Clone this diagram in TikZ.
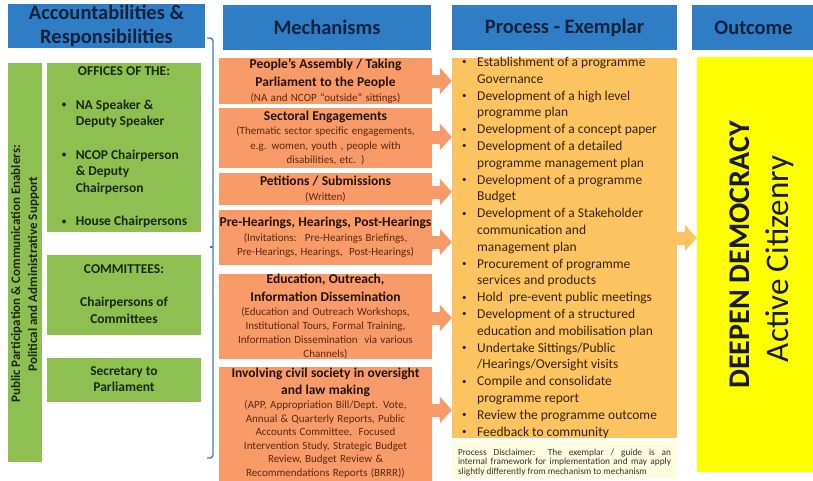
\documentclass[tikz,border=0pt]{standalone}
\usepackage{fontspec}
\setmainfont{Carlito}
\usetikzlibrary{arrows.meta}
\definecolor{hdrblue}{RGB}{47,125,196}
\definecolor{hdrtext}{RGB}{20,34,62}
\definecolor{grnfill}{RGB}{141,192,80}
\definecolor{grntext}{RGB}{28,40,14}
\definecolor{mechor}{RGB}{248,155,105}
\definecolor{mechtitle}{RGB}{36,18,8}
\definecolor{mechsub}{RGB}{90,40,15}
\definecolor{procor}{RGB}{252,196,96}
\definecolor{proctext}{RGB}{55,35,10}
\definecolor{disfill}{RGB}{255,252,224}
\definecolor{outyel}{RGB}{255,255,0}
\definecolor{brkblue}{RGB}{60,125,200}
\newcommand\fsz[2]{\fontsize{#1}{#2}\selectfont}
\newcommand\mtitle{\fsz{13.5}{18}\bfseries\color{mechtitle}}
\newcommand\msub{\fsz{11}{14.5}\mdseries\color{mechsub}}
\newcommand\mybul{\raisebox{1.6pt}{\fsz{9}{9}\textbullet}}
\begin{document}
\begin{tikzpicture}[x=1pt,y=-1pt,
  hdr/.style={fill=hdrblue,text=hdrtext,font=\fsz{20.5}{24}\bfseries,inner sep=0pt,align=center},
  grnbox/.style={fill=grnfill,text=grntext,inner sep=0pt,font=\fsz{13.5}{16.67}\bfseries},
  mech/.style={fill=mechor,inner sep=0pt,align=center,text width=213pt,minimum width=213pt},
  fat/.style={draw=mechor,line width=13pt,-{Triangle[length=12pt,width=26pt]}},
  brk/.style={draw=brkblue,line width=1.4pt,rounded corners=3pt},
]
\useasboundingbox[fill=white] (0,0) rectangle (813,480);

% headers
\node[hdr,minimum width=197pt,minimum height=44pt] (acch) at (106.5,26) {Accountabilities \&\\Responsibilities};
\node[hdr,minimum width=208pt,minimum height=45pt] (mechh) at (327,27.5) {Mechanisms};
\node[hdr,minimum width=225pt,minimum height=45pt] (proch) at (564.5,27.5) {Process - Exemplar};
\node[hdr,minimum width=123pt,minimum height=45pt] (outh) at (753.5,27.5) {Outcome};

% left column
\node[grnbox,minimum width=34pt,minimum height=399pt] (bar) at (25,262.5) {};
\node[text=grntext,font=\fsz{13}{17}\bfseries,rotate=90,align=center,inner sep=0pt] (bartext) at (25,274) {Public Participation \& Communication Enablers:\\Political and Administrative Support};

\node[grnbox,minimum width=154pt,minimum height=169pt] (offices) at (124,147.5) {%
\begin{tabular}{@{}l@{}l@{}}
\multicolumn{2}{c}{OFFICES OF THE:}\\
\\
\makebox[15pt][l]{\hspace{1pt}\mybul} & NA Speaker \&\\
 & Deputy Speaker\\
\\
\hspace{1pt}\mybul & NCOP Chairperson\\
 & \& Deputy\\
 & Chairperson\\
\\
\hspace{1pt}\mybul & House Chairpersons
\end{tabular}};
\node[grnbox,minimum width=154pt,minimum height=80pt] (committees) at (124,295) {%
\begin{tabular}{@{}c@{}}
COMMITTEES:\\
\\
Chairpersons of\\
Committees
\end{tabular}};
\node[grnbox,minimum width=154pt,minimum height=44pt] (secretary) at (124,380) {%
\begin{tabular}{@{}c@{}}
Secretary to\\
Parliament
\end{tabular}};

% bracket
\draw[brk] (207,38) -- (213,38) -- (213,458) -- (207,458);
\draw[draw=brkblue,line width=1.2pt] (213,247) -- (210,247);

% mechanisms
\node[mech,minimum height=46pt] (m1) at (325.5,81) {\mtitle People’s Assembly / Taking\\Parliament to the People\par\msub (NA and NCOP “outside” sittings)\par};
\node[mech,minimum height=60pt] (m2) at (325.5,138) {\mtitle Sectoral Engagements\par\msub (Thematic sector specific engagements,\\e.g. women, youth , people with\\disabilities, etc. )\par};
\node[mech,minimum height=32pt] (m3) at (325.5,189) {\mtitle Petitions / Submissions\par\msub (Written)\par};
\node[mech,minimum height=55pt] (m4) at (325.5,237.5) {\mtitle Pre-Hearings, Hearings, Post-Hearings\par\msub (Invitations:~ Pre-Hearings Briefings,\\Pre-Hearings, Hearings,~ Post-Hearings)\par};
\node[mech,minimum height=83pt] (m5) at (325.5,316.5) {\mtitle Education, Outreach,\\Information Dissemination\par\fsz{11}{13.8}\mdseries\color{mechsub}(Education and Outreach Workshops,\\Institutional Tours, Formal Training,\\Information Dissemination~ via various\\Channels)\par};
\node[mech,minimum height=118pt] (m6) at (325.5,426) {};
\node[align=center,text width=213pt,inner sep=0pt] (m6text) at (325.5,423) {\fsz{13.5}{17.5}\bfseries\color{mechtitle}Involving civil society in oversight\\and law making\par\fsz{11}{13.6}\mdseries\color{mechsub}(APP, Appropriation Bill/Dept. Vote,\\Annual \& Quarterly Reports, Public\\Accounts Committee,~ Focused\\Intervention Study, Strategic Budget\\Review, Budget Review \&\\Recommendations Reports (BRRR))\par};

% process
\node[fill=procor,minimum width=225pt,minimum height=380pt,inner sep=0pt] (proc) at (564.5,248) {};
\node[anchor=west,inner sep=0pt,text=proctext,font=\fsz{13.5}{16.8}] (proclist) at (462,248) {%
\begin{tabular}{@{}l@{}l@{}}
\makebox[15pt][l]{\mybul} & Establishment of a programme\\
 & Governance\\
\mybul & Development of a high level\\
 & programme plan\\
\mybul & Development of a concept paper\\
\mybul & Development of a detailed\\
 & programme management plan\\
\mybul & Development of a programme\\
 & Budget\\
\mybul & Development of a Stakeholder\\
 & communication and\\
 & management plan\\
\mybul & Procurement of programme\\
 & services and products\\
\mybul & Hold~ pre-event public meetings\\
\mybul & Development of a structured\\
 & education and mobilisation plan\\
\mybul & Undertake Sittings/Public\\
 & /Hearings/Oversight visits\\
\mybul & Compile and consolidate\\
 & programme report\\
\mybul & Review the programme outcome\\
\mybul & Feedback to community
\end{tabular}};

\node[fill=disfill,minimum width=225pt,minimum height=37pt,inner sep=0pt] (discl) at (564.5,459.5) {};
\node[text width=213pt,inner sep=0pt,font=\fsz{9.3}{9.5},text=black!80,align=justify] (discltext) at (564.5,462.5) {Process Disclaimer: The exemplar / guide is an\linebreak internal framework for implementation and may apply\linebreak slightly differently from mechanism to mechanism};

% outcome
\node[fill=outyel,minimum width=118pt,minimum height=415pt,inner sep=0pt] (outc) at (756,264.5) {};
\node[rotate=90,inner sep=0pt,font=\fsz{30}{36}\bfseries,text=black!90] (deepen) at (740,255) {DEEPEN DEMOCRACY};
\node[rotate=90,inner sep=0pt,font=\fsz{33}{40},text=black!90] (active) at (780,259) {Active Citizenry};

% arrows
\draw[fat] (m1.east |- 0,81) -- (proc.west |- 0,81);
\draw[fat] (m2.east |- 0,137) -- (proc.west |- 0,137);
\draw[fat] (m3.east |- 0,192) -- (proc.west |- 0,192);
\draw[fat] (m4.east |- 0,242) -- (proc.west |- 0,242);
\draw[fat] (m5.east |- 0,318) -- (proc.west |- 0,318);
\draw[fat] (m6.east |- 0,410) -- (proc.west |- 0,410);
\draw[fat,draw=procor] (proc.east |- 0,238) -- (outc.west |- 0,238);
\end{tikzpicture}
\end{document}
